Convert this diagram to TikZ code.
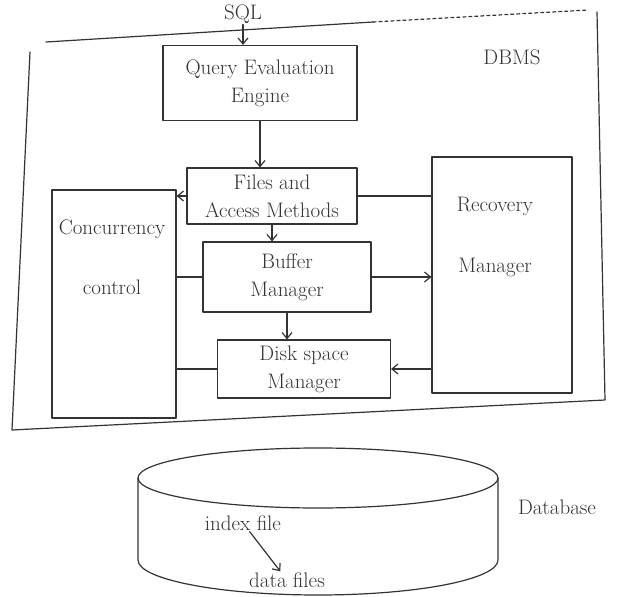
\documentclass[tikz,border=0pt]{standalone}
\usetikzlibrary{arrows.meta}
\definecolor{ink}{gray}{0.2}
\newcommand\handfont{\fontsize{21}{28}\selectfont}
\begin{document}
\begin{tikzpicture}[x=1pt,y=-1pt,
  pen/.style={line width=1.2pt, draw=ink, line cap=round, line join=round},
  box/.style={pen, rectangle, align=center, font=\handfont, text=ink, inner sep=0pt},
  txt/.style={font=\handfont, align=center, text=ink, inner sep=1pt},
  arr/.style={pen, -{Straight Barb[length=6pt,width=10pt]}},
  link/.style={pen}]
\useasboundingbox[fill=white] (0,0) rectangle (622,597);

% DBMS outline
\draw[pen] (46,42) -- (373,22);
\draw[pen, dashed] (373,22) -- (588,10);
\draw[pen] (30,52) -- (12,430) -- (605,400) -- (597,12);
\node[txt] (dbmsl) at (512,57) {DBMS};

% components
\node[txt] (sql) at (243,14) {SQL};
\node[box, minimum width=194pt, minimum height=75pt] (qee) at (260,83) {Query Evaluation\\Engine};
\node[box, minimum width=170pt, minimum height=56pt] (fam) at (272,196) {Files and\\Access Methods};
\node[box, minimum width=168pt, minimum height=70pt] (buf) at (287,277) {Buffer\\Manager};
\node[box, minimum width=173pt, minimum height=58pt] (dsm) at (304,369) {Disk space\\Manager};
\node[box, minimum width=124pt, minimum height=228pt] (cc) at (114,304) {};
\node[txt] (cct) at (112,257) {Concurrency\\[32pt]control};
\node[box, minimum width=140pt, minimum height=236pt] (rm) at (502,275) {};
\node[txt] (rmt) at (495,237) {Recovery\\[33pt]Manager};

% connectors
\draw[arr] (sql.south) -- (sql.south |- qee.north);
\draw[arr] (qee.south) -- (qee.south |- fam.north);
\draw[arr] (fam.south) -- (fam.south |- buf.north);
\draw[arr] (buf.south) -- (buf.south |- dsm.north);
\draw[arr] (fam.west) -- (fam.west -| cc.east);
\draw[link] (cc.east |- buf.west) -- (buf.west);
\draw[link] (cc.east |- dsm.west) -- (dsm.west);
\draw[link] (rm.west |- fam.east) -- (fam.east);
\draw[arr] (buf.east) -- (buf.east -| rm.west);
\draw[arr] (rm.west |- dsm.east) -- (dsm.east);

% database cylinder
\draw[pen] (318,478) ellipse [x radius=180pt, y radius=30pt];
\draw[pen] (138,478) -- (138,560) arc[start angle=180, end angle=360, x radius=180pt, y radius=35pt] -- (498,478);
\node[txt] (idx) at (243,523) {index file};
\node[txt] (dat) at (287,580) {data files};
\draw[arr] (idx) -- (dat);
\node[txt] (dbl) at (557,507) {Database};
\end{tikzpicture}
\end{document}
